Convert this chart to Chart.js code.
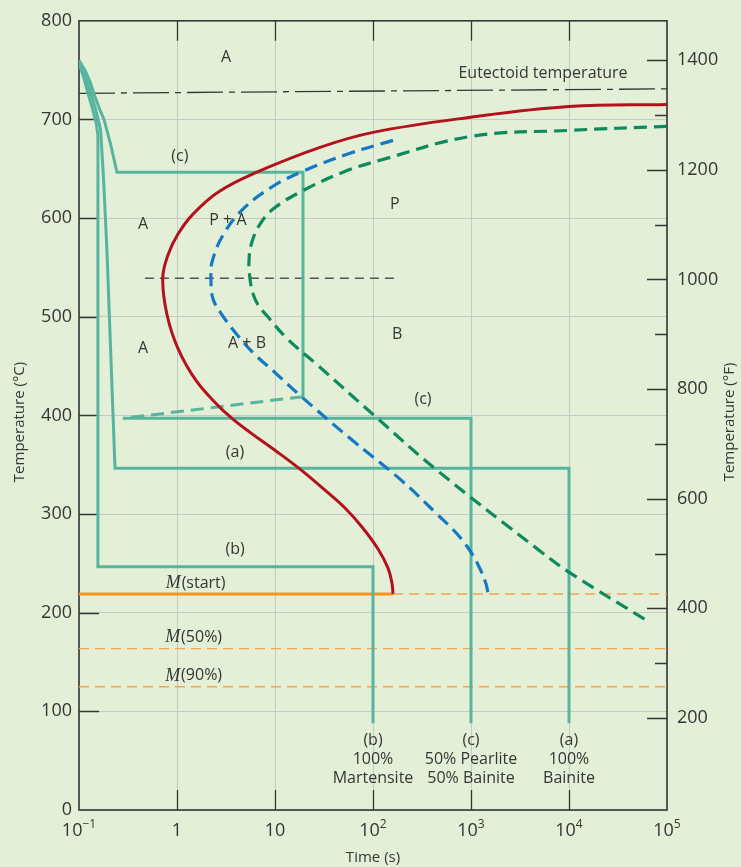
<!DOCTYPE html>
<html>
<head>
<meta charset="utf-8">
<script src="https://cdn.jsdelivr.net/npm/chart.js@4.4.1/dist/chart.umd.min.js"></script>
<style>
  html, body { margin: 0; padding: 0; background: #e3efd6; }
  #ttt { display: block; }
</style>
</head>
<body>
<canvas id="ttt" width="741" height="867"></canvas>
<script>
// axis ticks
const xTicks = [0.1, 1, 10, 100, 1000, 10000, 100000];
const xTickBase = ["10", "1", "10", "10", "10", "10", "10"];
const xTickExp = ["\u22121", "", "", "2", "3", "4", "5"];
const cTicks = [100, 200, 300, 400, 500, 600, 700];
const fMajor = [200, 400, 600, 800, 1000, 1200, 1400];
const fMinor = [300, 500, 700, 900, 1100, 1300];

// transformation curves, time (s) / temperature (°C)
const startTime = [1e5, 1e4, 1000, 100, 28.8, 6.51, 2.62, 1.456, 1.024, 0.809, 0.715, 0.791, 1.024, 1.563, 2.56, 3.64, 5.56, 10, 18, 32.4, 51.8, 77.2, 112.5, 142, 156, 160];
const startTemp = [715.2, 713.1, 702.3, 686.9, 671.7, 646.5, 626.3, 604, 583.8, 562.6, 538.7, 502, 467.7, 435.4, 411.1, 397, 382.8, 364.6, 345.5, 324.2, 306.1, 286.9, 264.6, 245.5, 230.3, 219.2];
const halfTime = [160, 58.2, 19.3, 9.54, 4.71, 2.95, 2.28, 2.22, 2.33, 2.88, 4.1, 6.1, 10, 18, 58.2, 188.7, 450, 737, 1024, 1265, 1422, 1490];
const halfTemp = [678.8, 665.7, 647.5, 632.3, 609.1, 582.8, 555.6, 538.4, 518.2, 502, 481.8, 462.6, 443.4, 420.2, 376.8, 335.4, 300, 278.8, 259.6, 242.4, 229.3, 220.2];
const endTime = [1e5, 1e4, 1000, 117.9, 49.4, 18, 9.54, 7.03, 5.82, 5.43, 5.56, 5.97, 6.71, 8.28, 13.3, 26.8, 100, 450, 5058, 10232, 62500];
const endTemp = [693, 688.9, 682.8, 658.6, 646.5, 626.3, 609.1, 593.9, 575.8, 557.6, 538.4, 523.2, 512.1, 501, 477.8, 451.5, 401, 344.4, 262.6, 240.4, 191.9];

// horizontal reference lines
const eutTime = [0.1, 1e5];
const eutTemp = [726.5, 731];
const noseTime = [0.47, 168];
const noseTemp = [539, 539];
const msTime = [0.1, 160];
const msTemp = [219, 219];
const msRestTime = [160, 1e5];
const msRestTemp = [219, 219];
const m50Time = [0.1, 1e5];
const m50Temp = [163.6, 163.6];
const m90Time = [0.1, 1e5];
const m90Temp = [125, 125];

// cooling paths
const pathCTime = [0.1, 0.115, 0.13, 0.142, 0.16, 0.18, 0.21, 0.244, 19.3, 19.3];
const pathCTemp = [760, 750, 738, 726, 712, 700, 675, 646.5, 646.5, 419];
const pathCQuenchTime = [19.3, 0.281];
const pathCQuenchTemp = [419, 397];
const pathCHoldTime = [0.281, 1000, 1000];
const pathCHoldTemp = [397, 397, 88];
const pathATime = [0.1, 0.118, 0.1325, 0.15, 0.166, 0.178, 0.193, 0.233, 1e4, 1e4];
const pathATemp = [758, 742, 726, 708, 690, 640, 566, 346.5, 346.5, 88];
const pathBTime = [0.1, 0.112, 0.124, 0.138, 0.15, 0.156, 0.156, 100, 100];
const pathBTemp = [757, 742, 726, 710, 696, 684, 246.5, 246.5, 88];

const ink = "#363636";
const teal = "#58b49f";
const orange = "#f7941d";
const orangeLight = "#f6a44f";
const gridColor = "#c6cac2";
const font = "'Open Sans', 'DejaVu Sans', sans-serif";

const regionLabels = [
  { text: "A", t: 3.16, T: 762.6 },
  { text: "A", t: 0.45, T: 594 },
  { text: "A", t: 0.45, T: 467.7 },
  { text: "P + A", t: 3.31, T: 598 },
  { text: "P", t: 167, T: 614 },
  { text: "A + B", t: 5.18, T: 472.7 },
  { text: "B", t: 176, T: 482 },
  { text: "(c)", t: 1.07, T: 662.6 },
  { text: "(c)", t: 324, T: 416 },
  { text: "(a)", t: 3.91, T: 362.6 },
  { text: "(b)", t: 3.91, T: 264.6 },
  { text: "Eutectoid temperature", t: 5430, T: 746.5 },
];
const mLabels = [
  { tail: "(start)", t: 1.53, T: 230 },
  { tail: "(50%)", t: 1.46, T: 174.7 },
  { tail: "(90%)", t: 1.46, T: 136 },
];
const bottomLineTemps = [70.7, 51.5, 32.3];
const bottomLabels = [
  { t: 100, lines: ["(b)", "100%", "Martensite"] },
  { t: 1000, lines: ["(c)", "50% Pearlite", "50% Bainite"] },
  { t: 10000, lines: ["(a)", "100%", "Bainite"] },
];

function pts(ts, Ts) {
  return ts.map((t, i) => ({ x: t, y: Ts[i] }));
}
function line(ts, Ts, color, width, dash, tension) {
  return {
    data: pts(ts, Ts),
    borderColor: color,
    borderWidth: width,
    borderDash: dash || [],
    tension: tension || 0,
    pointRadius: 0,
    fill: false,
  };
}

// first in the list is drawn on top
const datasets = [
  line(startTime, startTemp, "#b3121c", 3, null, 0.4),
  line(halfTime, halfTemp, "#1579c3", 3.2, [13, 7], 0.4),
  line(endTime, endTemp, "#0d8a5e", 3.2, [13, 7], 0.4),
  line(pathCTime, pathCTemp, teal, 3),
  line(pathCQuenchTime, pathCQuenchTemp, teal, 3, [13, 7]),
  line(pathCHoldTime, pathCHoldTemp, teal, 3),
  line(pathATime, pathATemp, teal, 3),
  line(pathBTime, pathBTemp, teal, 3),
  line(msTime, msTemp, orange, 3),
  line(msRestTime, msRestTemp, orangeLight, 1.4, [10, 6]),
  line(m50Time, m50Temp, orangeLight, 1.4, [10, 6]),
  line(m90Time, m90Temp, orangeLight, 1.4, [10, 6]),
  line(noseTime, noseTemp, "#555", 1.5, [9, 6]),
  line(eutTime, eutTemp, ink, 1.3, [36, 6, 6, 6]),
];

const paper = {
  id: "paper",
  beforeDraw(chart) {
    const { ctx, width, height } = chart;
    ctx.save();
    ctx.fillStyle = "#e3efd6";
    ctx.fillRect(0, 0, width, height);
    ctx.restore();
  },
};

const frame = {
  id: "frame",
  beforeDatasetsDraw(chart) {
    const { ctx, chartArea: a, scales } = chart;
    ctx.save();
    ctx.strokeStyle = ink;
    ctx.lineWidth = 1.3;
    ctx.beginPath();
    cTicks.forEach((v) => {
      const y = Math.round(scales.y.getPixelForValue(v)) + 0.5;
      ctx.moveTo(a.left, y); ctx.lineTo(a.left + 20, y);
    });
    fMajor.forEach((v) => {
      const y = Math.round(scales.yF.getPixelForValue(v)) + 0.5;
      ctx.moveTo(a.right, y); ctx.lineTo(a.right - 20, y);
    });
    fMinor.forEach((v) => {
      const y = Math.round(scales.yF.getPixelForValue(v)) + 0.5;
      ctx.moveTo(a.right, y); ctx.lineTo(a.right - 12, y);
    });
    xTicks.slice(1, -1).forEach((v) => {
      const x = Math.round(scales.x.getPixelForValue(v)) + 0.5;
      ctx.moveTo(x, a.bottom); ctx.lineTo(x, a.bottom - 20);
      ctx.moveTo(x, a.top); ctx.lineTo(x, a.top + 20);
    });
    ctx.stroke();
    ctx.lineWidth = 1.6;
    ctx.strokeRect(a.left, a.top, a.right - a.left, a.bottom - a.top);
    ctx.restore();
  },
};

const texts = {
  id: "texts",
  afterDatasetsDraw(chart) {
    const { ctx, chartArea: a, scales } = chart;
    const sx = (t) => scales.x.getPixelForValue(t);
    const sy = (T) => scales.y.getPixelForValue(T);
    ctx.save();
    ctx.fillStyle = ink;
    ctx.textAlign = "center";
    ctx.textBaseline = "middle";
    ctx.font = "16px " + font;
    regionLabels.forEach((l) => ctx.fillText(l.text, sx(l.t), sy(l.T)));
    bottomLabels.forEach((b) => {
      b.lines.forEach((s, i) => ctx.fillText(s, sx(b.t), sy(bottomLineTemps[i])));
    });

    // M labels: italic serif M followed by plain text
    mLabels.forEach((l) => {
      const mFont = "italic 18px 'Liberation Serif', 'DejaVu Serif', serif";
      const tFont = "16px " + font;
      ctx.font = mFont;
      const wm = ctx.measureText("M").width;
      ctx.font = tFont;
      const wt = ctx.measureText(l.tail).width;
      const x = sx(l.t) - (wm + wt) / 2;
      const y = sy(l.T);
      ctx.textAlign = "left";
      ctx.font = mFont;
      ctx.fillText("M", x, y);
      ctx.font = tFont;
      ctx.fillText(l.tail, x + wm + 1, y);
      ctx.textAlign = "center";
    });

    // x tick labels with raised exponents
    xTicks.forEach((v, i) => {
      ctx.font = "18px " + font;
      const wb = ctx.measureText(xTickBase[i]).width;
      ctx.font = "12px " + font;
      const we = ctx.measureText(xTickExp[i]).width;
      const x0 = sx(v) - (wb + we) / 2;
      ctx.textAlign = "left";
      ctx.textBaseline = "alphabetic";
      ctx.font = "18px " + font;
      ctx.fillText(xTickBase[i], x0, a.bottom + 26);
      ctx.font = "12px " + font;
      ctx.fillText(xTickExp[i], x0 + wb, a.bottom + 18);
    });

    // axis titles
    ctx.textAlign = "center";
    ctx.textBaseline = "middle";
    ctx.font = "15px " + font;
    ctx.fillText("Time (s)", (a.left + a.right) / 2, 858);
    ctx.save();
    ctx.translate(20, 422);
    ctx.rotate(-Math.PI / 2);
    ctx.fillText("Temperature (\u00B0C)", 0, 0);
    ctx.restore();
    ctx.save();
    ctx.translate(730, 422);
    ctx.rotate(-Math.PI / 2);
    ctx.fillText("Temperature (\u00B0F)", 0, 0);
    ctx.restore();
    ctx.restore();
  },
};

new Chart(document.getElementById("ttt"), {
  type: "line",
  data: { datasets },
  options: {
    responsive: false,
    animation: false,
    devicePixelRatio: 1,
    layout: { padding: { top: 18, left: 0, right: 0, bottom: 0 } },
    plugins: { legend: { display: false }, tooltip: { enabled: false } },
    scales: {
      x: {
        type: "logarithmic",
        min: 0.1,
        max: 1e5,
        afterBuildTicks: (s) => { s.ticks = xTicks.map((v) => ({ value: v })); },
        ticks: { display: false },
        grid: { color: gridColor, lineWidth: 1, drawTicks: false },
        border: { display: false },
        afterFit: (s) => { s.height = 57; },
      },
      y: {
        type: "linear",
        position: "left",
        min: 0,
        max: 800,
        afterBuildTicks: (s) => { s.ticks = [0].concat(cTicks, [800]).map((v) => ({ value: v })); },
        ticks: { color: ink, padding: 7, font: { family: font, size: 18 }, callback: (v) => String(v) },
        grid: { color: gridColor, lineWidth: 1, drawTicks: false },
        border: { display: false },
        afterFit: (s) => { s.width = 79; },
      },
      yF: {
        type: "linear",
        position: "right",
        min: 32,
        max: 1472,
        afterBuildTicks: (s) => { s.ticks = fMajor.map((v) => ({ value: v })); },
        ticks: { color: ink, padding: 10, font: { family: font, size: 18 }, callback: (v) => String(v) },
        grid: { display: false, drawTicks: false },
        border: { display: false },
        afterFit: (s) => { s.width = 74; },
      },
    },
  },
  plugins: [paper, frame, texts],
});
</script>
</body>
</html>
